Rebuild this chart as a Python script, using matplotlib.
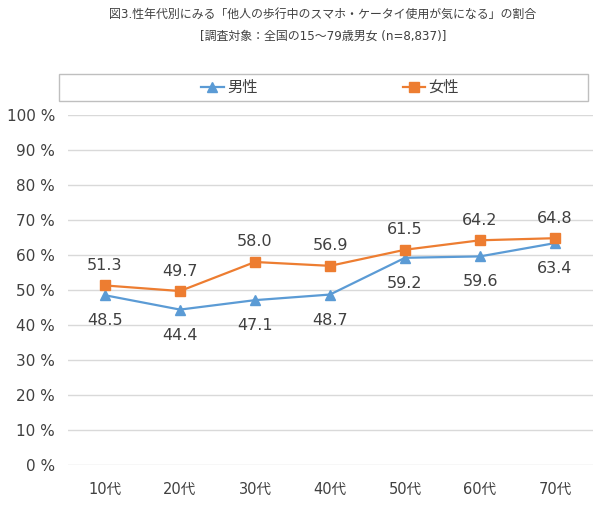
import matplotlib
matplotlib.use("Agg")
import matplotlib.pyplot as plt
from matplotlib.lines import Line2D
from matplotlib.patches import Rectangle

# Latin glyphs from DejaVu (wide, Meiryo-like), Japanese from Noto CJK
plt.rcParams['font.family'] = ['DejaVu Sans', 'Noto Sans CJK JP']

# data
ages = ['10代', '20代', '30代', '40代', '50代', '60代', '70代']
male = [48.5, 44.4, 47.1, 48.7, 59.2, 59.6, 63.4]
female = [51.3, 49.7, 58.0, 56.9, 61.5, 64.2, 64.8]
y_ticks = [0, 10, 20, 30, 40, 50, 60, 70, 80, 90, 100]

title1 = '図3.性年代別にみる「他人の歩行中のスマホ・ケータイ使用が気になる」の割合'
title2 = '[調査対象：全国の15～79歳男女 (n=8,837)]'

blue = '#5B9BD5'
orange = '#ED7D31'
txt = '#404040'

fig = plt.figure(figsize=(6.0, 5.12), dpi=100)
ax = fig.add_axes([0.1125, 0.0918, 0.875, 0.6836])

x = list(range(len(ages)))
ax.plot(x, male, color=blue, lw=1.6, marker='^', ms=7, label='男性')
ax.plot(x, female, color=orange, lw=1.6, marker='s', ms=6.5, label='女性')

for i, v in enumerate(male):
    ax.annotate(f'{v:.1f}', (i, v), xytext=(0, -13), textcoords='offset points',
                ha='center', va='top', fontsize=11.5, color=txt)
for i, v in enumerate(female):
    ax.annotate(f'{v:.1f}', (i, v), xytext=(0, 9), textcoords='offset points',
                ha='center', va='bottom', fontsize=11.5, color=txt)

ax.set_xlim(-0.5, len(ages) - 0.5)
ax.set_ylim(0, 100)
ax.set_yticks(y_ticks)
ax.set_yticklabels([f'{t} %' for t in y_ticks], fontsize=11, color=txt)
ax.set_xticks(x)
ax.set_xticklabels(ages, fontsize=10.5, color=txt)
ax.tick_params(axis='x', length=0, pad=12)
ax.tick_params(axis='y', length=0, pad=9)
ax.grid(axis='y', color='#d9d9d9', lw=1)
ax.set_axisbelow(True)
for s in ax.spines.values():
    s.set_visible(False)

fig.text(0.538, 0.972, title1, ha='center', va='center', fontsize=8.6, color=txt)
fig.text(0.538, 0.929, title2, ha='center', va='center', fontsize=8.6, color=txt)

# legend with a full-width box
fig.patches.append(Rectangle((0.098, 0.803), 0.882, 0.052, transform=fig.transFigure,
                             facecolor='white', edgecolor='#bfbfbf', lw=1))
handles = [Line2D([], [], color=blue, lw=1.6, marker='^', ms=7),
           Line2D([], [], color=orange, lw=1.6, marker='s', ms=6.5)]
fig.legend(handles, ['男性', '女性'], loc='center', bbox_to_anchor=(0.55, 0.829),
           ncol=2, frameon=False, fontsize=11, columnspacing=9.5,
           handlelength=1.5, handletextpad=0.2, labelcolor=txt)

fig.savefig('out.png', dpi=100)
